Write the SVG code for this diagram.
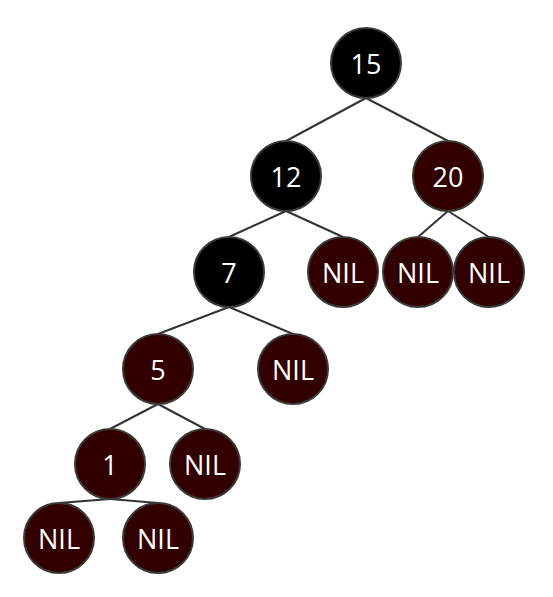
<svg xmlns="http://www.w3.org/2000/svg" width="553" height="597" viewBox="0 0 553 597">
<style>
.n circle{stroke:#3a3a3a;stroke-width:2}
.b circle{fill:#000}
.r circle{fill:#330000}
.n text{fill:#fff;font-family:"Open Sans","Noto Sans",sans-serif;font-size:27px;text-anchor:middle;dominant-baseline:central}
.e line{stroke:#333;stroke-width:2}
</style>
<rect width="553" height="597" fill="#fff"/>
<g class="e" id="edges">
<line x1="366" y1="98" x2="286" y2="141"/>
<line x1="366" y1="98" x2="448" y2="141"/>
<line x1="286" y1="211" x2="229" y2="237"/>
<line x1="286" y1="211" x2="343" y2="237"/>
<line x1="448" y1="211" x2="418" y2="237"/>
<line x1="448" y1="211" x2="489" y2="237"/>
<line x1="229" y1="307" x2="158" y2="334"/>
<line x1="229" y1="307" x2="293" y2="334"/>
<line x1="158" y1="404" x2="110" y2="429"/>
<line x1="158" y1="404" x2="205" y2="429"/>
<line x1="110" y1="499" x2="59" y2="503"/>
<line x1="110" y1="499" x2="158" y2="503"/>
</g>
<g id="n15" class="n b"><circle cx="366" cy="63" r="35"/><text x="366" y="63">15</text></g>
<g id="n12" class="n b"><circle cx="286" cy="176" r="35"/><text x="286" y="176">12</text></g>
<g id="n20" class="n r"><circle cx="448" cy="176" r="35"/><text x="448" y="176">20</text></g>
<g id="n7" class="n b"><circle cx="229" cy="272" r="35"/><text x="229" y="272">7</text></g>
<g id="nil12" class="n r"><circle cx="343" cy="272" r="35"/><text x="343" y="272">NIL</text></g>
<g id="nil20a" class="n r"><circle cx="418" cy="272" r="35"/><text x="418" y="272">NIL</text></g>
<g id="nil20b" class="n r"><circle cx="489" cy="272" r="35"/><text x="489" y="272">NIL</text></g>
<g id="n5" class="n r"><circle cx="158" cy="369" r="35"/><text x="158" y="369">5</text></g>
<g id="nil7" class="n r"><circle cx="293" cy="369" r="35"/><text x="293" y="369">NIL</text></g>
<g id="n1" class="n r"><circle cx="110" cy="464" r="35"/><text x="110" y="464">1</text></g>
<g id="nil5" class="n r"><circle cx="205" cy="464" r="35"/><text x="205" y="464">NIL</text></g>
<g id="nil1a" class="n r"><circle cx="59" cy="538" r="35"/><text x="59" y="538">NIL</text></g>
<g id="nil1b" class="n r"><circle cx="158" cy="538" r="35"/><text x="158" y="538">NIL</text></g>
</svg>
